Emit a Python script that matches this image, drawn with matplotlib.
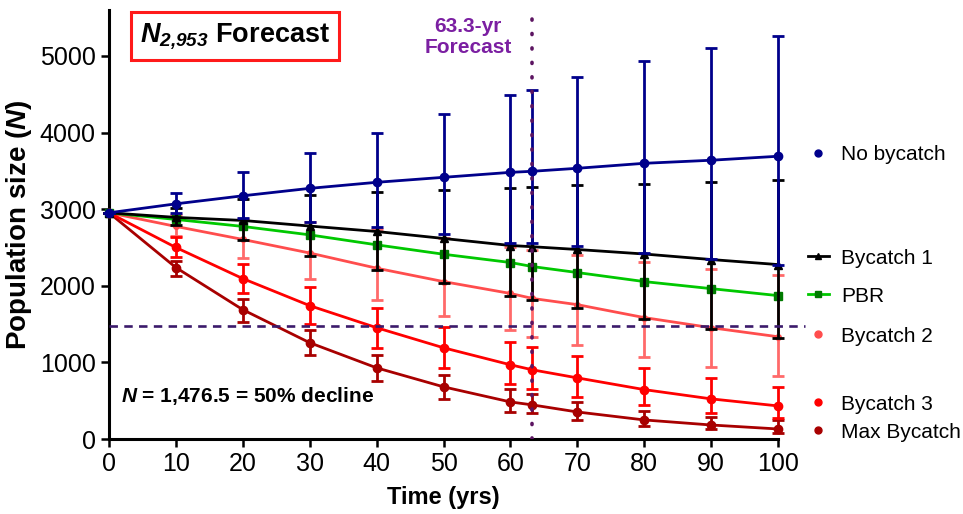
import matplotlib
matplotlib.use('Agg')
import matplotlib.pyplot as plt
from matplotlib.lines import Line2D

plt.rcParams['font.family'] = 'Liberation Sans'
plt.rcParams['mathtext.fontset'] = 'custom'
plt.rcParams['mathtext.it'] = 'Liberation Sans:italic:bold'
plt.rcParams['mathtext.rm'] = 'Liberation Sans:bold'
plt.rcParams['mathtext.bf'] = 'Liberation Sans:bold'
plt.rcParams['mathtext.sf'] = 'Liberation Sans:italic:bold'

years = [0, 10, 20, 30, 40, 50, 60, 63.3, 70, 80, 90, 100]

no_bycatch = [2953, 3070, 3175, 3272, 3351, 3416, 3481, 3495, 3534, 3599, 3639, 3691]
no_bycatch_hi = [2953, 3207, 3482, 3730, 3992, 4241, 4490, 4555, 4725, 4934, 5105, 5262]
no_bycatch_lo = [2953, 2950, 2885, 2827, 2762, 2670, 2565, 2555, 2515, 2434, 2356, 2277]

bycatch1 = [2953, 2893, 2853, 2780, 2709, 2618, 2526, 2510, 2474, 2415, 2343, 2277]
bycatch1_hi = [2953, 3015, 3135, 3181, 3220, 3246, 3272, 3290, 3311, 3324, 3350, 3377]
bycatch1_lo = [2953, 2788, 2600, 2395, 2205, 2042, 1872, 1810, 1713, 1571, 1440, 1322]

pbr = [2953, 2866, 2775, 2665, 2535, 2412, 2304, 2251, 2173, 2055, 1963, 1872]

bycatch2 = [2953, 2775, 2605, 2428, 2230, 2055, 1900, 1835, 1754, 1585, 1453, 1335]
bycatch2_hi = [2953, 2925, 2870, 2835, 2740, 2620, 2500, 2470, 2408, 2310, 2220, 2146]
bycatch2_lo = [2953, 2644, 2369, 2094, 1819, 1610, 1427, 1335, 1230, 1075, 942, 825]

bycatch3 = [2953, 2500, 2094, 1741, 1453, 1191, 969, 903, 798, 645, 524, 432]
bycatch3_hi = [2953, 2631, 2291, 1990, 1715, 1466, 1270, 1204, 1086, 929, 798, 681]
bycatch3_lo = [2953, 2382, 1911, 1505, 1191, 929, 720, 654, 550, 445, 340, 275]

max_bycatch = [2953, 2238, 1688, 1257, 929, 681, 484, 445, 353, 249, 183, 131]
max_bycatch_hi = [2953, 2330, 1833, 1427, 1099, 838, 654, 589, 484, 367, 288, 249]
max_bycatch_lo = [2953, 2134, 1531, 1099, 759, 524, 353, 340, 249, 170, 131, 80]

decline_n = 1476.5
forecast_yr = 63.3

fig = plt.figure(figsize=(9.63, 5.14), dpi=100)
ax = fig.add_axes([0.1132, 0.1459, 0.6947, 0.8346])


def series(y, hi, lo, color, marker, ms, ecolor=None, z=2):
    yerr = [[m - l for m, l in zip(y, lo)], [h - m for m, h in zip(y, hi)]]
    ax.errorbar(years, y, yerr=yerr, color=color, ecolor=ecolor or color,
                marker=marker, ms=ms, lw=2.0, elinewidth=2.0, capsize=4,
                capthick=2.0, zorder=z, clip_on=False)


series(bycatch2, bycatch2_hi, bycatch2_lo, '#ff4d4d', 'o', 4, ecolor='#ff6a6a', z=2)
series(max_bycatch, max_bycatch_hi, max_bycatch_lo, '#a80000', 'o', 6, z=3)
series(bycatch3, bycatch3_hi, bycatch3_lo, '#ff0000', 'o', 6, z=4)
ax.plot(years, pbr, color='#00c800', lw=2.0, marker='s', ms=6, mfc='#007a00',
        mec='#007a00', zorder=5, clip_on=False)
series(bycatch1, bycatch1_hi, bycatch1_lo, 'black', '^', 6, z=6)
series(no_bycatch, no_bycatch_hi, no_bycatch_lo, '#00008b', 'o', 6, z=7)

ax.axvline(forecast_yr, color='#5c1461', lw=2.6, linestyle=(0, (0.3, 3.7)),
           dash_capstyle='round', zorder=8)
ax.axhline(decline_n, xmin=0, xmax=1.04, color='#3b1a6b', lw=1.9,
           linestyle=(0, (3.2, 2.4)), zorder=8, clip_on=False)

ax.set_xlim(0, 100)
ax.set_ylim(0, 5600)
ax.set_xticks(range(0, 101, 10))
ax.set_yticks(range(0, 5001, 1000))
ax.tick_params(labelsize=18, length=6, width=1.8, direction='out')
for s in ['top', 'right']:
    ax.spines[s].set_visible(False)
for s in ['left', 'bottom']:
    ax.spines[s].set_linewidth(2.2)

ax.set_xlabel('Time (yrs)', fontsize=17, fontweight='bold', labelpad=7)
ax.set_ylabel('Population size ($N$)', fontsize=20, fontweight='bold', labelpad=4)

ax.text(0.188, 0.94, r'$N_{\mathsf{2{,}953}}$ Forecast', transform=ax.transAxes,
        fontsize=19.5, fontweight='bold', ha='center', va='center',
        bbox=dict(boxstyle='square,pad=0.33', fc='white', ec='#ff1a1a', lw=2.2))
ax.text(forecast_yr - 9.6, 5250, '63.3-yr\nForecast', color='#7b1fa2',
        fontsize=15, fontweight='bold', ha='center', va='center', linespacing=1.15)
ax.text(1.8, 560, '$N$ = 1,476.5 = 50% decline', fontsize=15, fontweight='bold',
        ha='left', va='center')

entries = [
    ('No bycatch', Line2D([], [], color='#00008b', marker='o', ls='none', ms=5), 155),
    ('Bycatch 1', Line2D([], [], color='black', marker='^', lw=2, ms=5), 258),
    ('PBR', Line2D([], [], color='#00c800', marker='s', lw=2, ms=5,
                   mfc='#007a00', mec='#007a00'), 296),
    ('Bycatch 2', Line2D([], [], color='#ff4d4d', marker='o', ls='none', ms=5), 336),
    ('Bycatch 3', Line2D([], [], color='#ff0000', marker='o', ls='none', ms=5), 404),
    ('Max Bycatch', Line2D([], [], color='#a80000', marker='o', ls='none', ms=5), 432),
]
for label, h, ypx in entries:
    fig.legend([h], [label], loc='center left', bbox_to_anchor=(808 / 963, 1 - ypx / 514),
               frameon=False, fontsize=15, handlelength=1.0, handletextpad=0.6,
               borderpad=0, borderaxespad=0)

fig.savefig('out.png', dpi=100)
